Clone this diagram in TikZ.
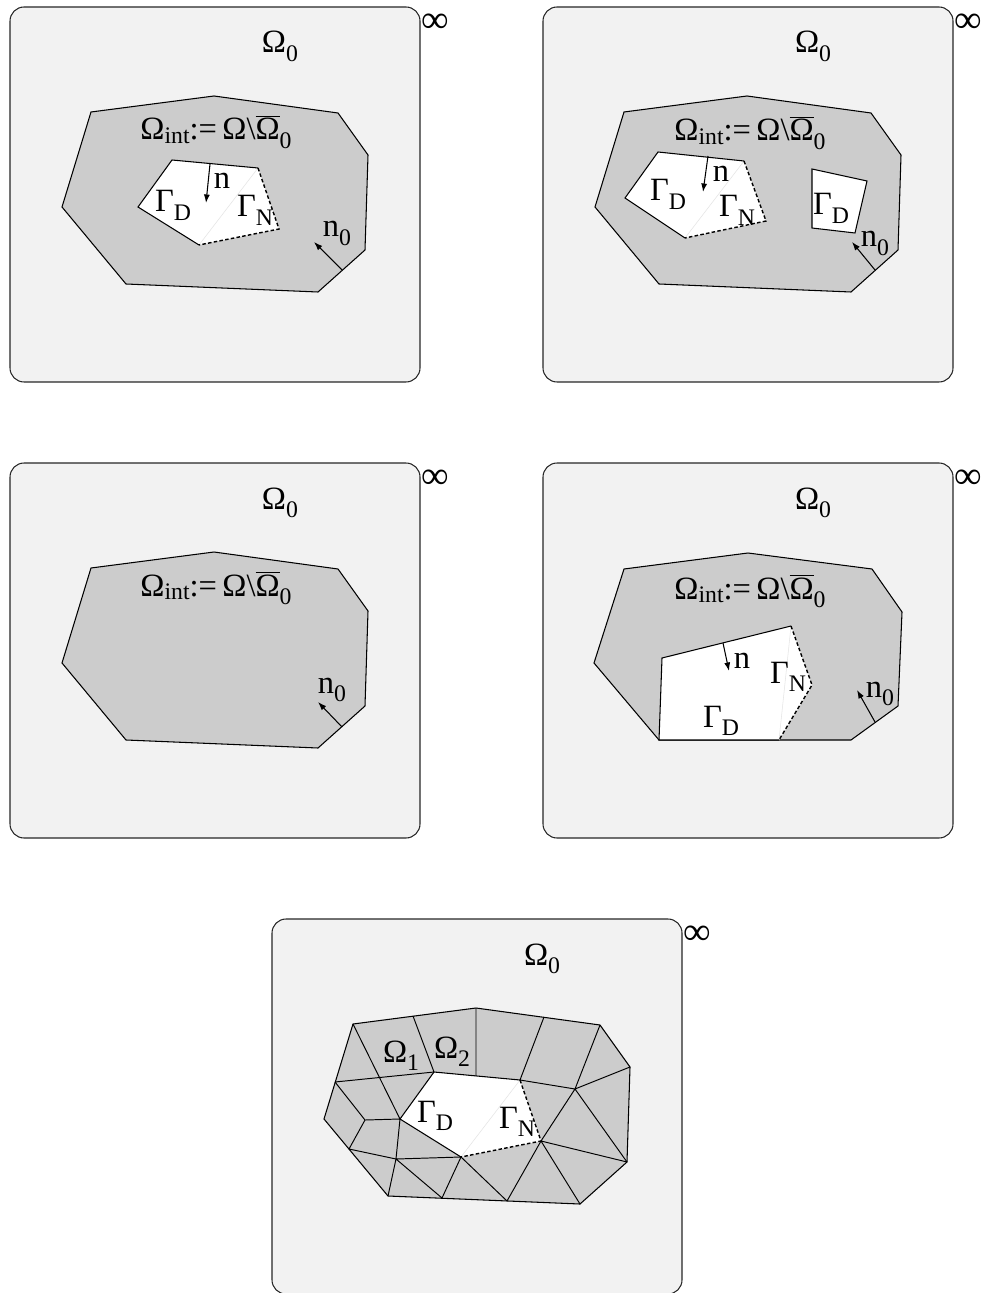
\documentclass[tikz,border=0pt]{standalone}
\usepackage{fontspec}
\setmainfont{Liberation Serif}
\usepackage{tikz}
\usetikzlibrary{arrows.meta}
\definecolor{outergray}{RGB}{242,242,242}
\definecolor{domaingray}{RGB}{204,204,204}
\definecolor{faintgray}{RGB}{228,228,228}
\newcommand{\lsub}[1]{\raisebox{-4.8pt}{\fontsize{13.5}{14}\selectfont #1}}
\newcommand{\isub}[1]{\raisebox{-2pt}{\fontsize{13.5}{14}\selectfont #1}}
\newcommand{\omintlabel}{Ω\isub{int}:=\,Ω\textbackslash$\overline{\mbox{Ω}}$\lsub{0}}
\tikzset{
  panelbox/.style={draw=black!85,fill=outergray,rounded corners=8pt,line width=0.6pt},
  regionfill/.style={draw=black,fill=domaingray,line width=0.6pt},
  holefill/.style={fill=white},
  dirichlet/.style={draw=black,line width=0.6pt},
  neumann/.style={draw=black,line width=0.8pt,dash pattern=on 2pt off 1.3pt},
  triedge/.style={draw=faintgray,line width=0.3pt},
  meshline/.style={draw=black,line width=0.55pt},
  normalarrow/.style={-{Latex[length=1.7mm,width=1.2mm]},line width=0.6pt},
  lbl/.style={inner sep=0pt,anchor=base,font=\fontsize{18.5}{21}\selectfont},
  inflbl/.style={inner sep=0pt,font=\fontsize{22}{24}\selectfont},
}

\begin{document}
\begin{tikzpicture}[x=0.02cm,y=-0.02cm]
  \useasboundingbox (0,0) rectangle (980,1293);
  % one hole, Dirichlet and Neumann parts
  \begin{scope}
    \draw[panelbox] (10,7) rectangle (420,382);
    \draw[regionfill] (91,112) -- (214,96) -- (338,113) -- (368,155) -- (365,250)
      -- (318,292) -- (126,284) -- (62,207) -- cycle;
    \fill[holefill] (172,160) -- (258,168) -- (279,229) -- (199,245) -- (138,207) -- cycle;
    \draw[triedge] (199,245) -- (258,168);
    \draw[dirichlet] (199,245) -- (138,207) -- (172,160) -- (258,168);
    \draw[neumann] (258,168) -- (279,229) -- (199,245);
    \node[inflbl] (infA) at (435,23) {∞};
    \node[lbl] (omzeroA) at (280,53) {Ω\lsub{0}};
    \node[lbl] (omintA) at (216,140) {\omintlabel};
    \node[lbl] (gdA) at (173,212) {Γ\lsub{D}};
    \node[lbl] (gnA) at (255,217) {Γ\lsub{N}};
    \node[lbl] (nA) at (222,189) {n};
    \node[lbl] (nzeroA) at (337,237) {n\lsub{0}};
    \coordinate (nAs) at (210,164);
    \coordinate (nAe) at (206,203);
    \coordinate (nzAs) at (342,270);
    \coordinate (nzAe) at (314,242);
    \draw[normalarrow] (nAs) -- (nAe);
    \draw[normalarrow] (nzAs) -- (nzAe);
  \end{scope}
  % two holes
  \begin{scope}[shift={(533,0)}]
    \draw[panelbox] (10,7) rectangle (420,382);
    \draw[regionfill] (91,112) -- (214,96) -- (338,113) -- (368,155) -- (365,250)
      -- (318,292) -- (126,284) -- (62,207) -- cycle;
    \fill[holefill] (125,152) -- (211,161) -- (233,221) -- (152,238) -- (92,198) -- cycle;
    \fill[holefill] (279,169) -- (334,181) -- (322,233) -- (279,228) -- cycle;
    \draw[triedge] (152,238) -- (211,161);
    \draw[dirichlet] (152,238) -- (92,198) -- (125,152) -- (211,161);
    \draw[neumann] (211,161) -- (233,221) -- (152,238);
    \draw[dirichlet] (279,169) -- (334,181) -- (322,233) -- (279,228) -- cycle;
    \node[inflbl] (infB) at (435,23) {∞};
    \node[lbl] (omzeroB) at (280,53) {Ω\lsub{0}};
    \node[lbl] (omintB) at (217,141) {\omintlabel};
    \node[lbl] (gdB) at (135,201) {Γ\lsub{D}};
    \node[lbl] (gnB) at (204,217) {Γ\lsub{N}};
    \node[lbl] (gdBb) at (298,215) {Γ\lsub{D}};
    \node[lbl] (nB) at (188,182) {n};
    \node[lbl] (nzeroB) at (342,247) {n\lsub{0}};
    \coordinate (nBs) at (175,156);
    \coordinate (nBe) at (170,192);
    \coordinate (nzBs) at (342,270);
    \coordinate (nzBe) at (319,242);
    \draw[normalarrow] (nBs) -- (nBe);
    \draw[normalarrow] (nzBs) -- (nzBe);
  \end{scope}
  % no hole
  \begin{scope}[shift={(0,456)}]
    \draw[panelbox] (10,7) rectangle (420,382);
    \draw[regionfill] (91,112) -- (214,96) -- (338,113) -- (368,155) -- (365,250)
      -- (318,292) -- (126,284) -- (62,207) -- cycle;
    \node[inflbl] (infC) at (435,23) {∞};
    \node[lbl] (omzeroC) at (280,53) {Ω\lsub{0}};
    \node[lbl] (omintC) at (216,140) {\omintlabel};
    \node[lbl] (nzeroC) at (332,237) {n\lsub{0}};
    \coordinate (nzCs) at (342,271);
    \coordinate (nzCe) at (318,246);
    \draw[normalarrow] (nzCs) -- (nzCe);
  \end{scope}
  % hole touching the outer boundary
  \begin{scope}[shift={(533,456)}]
    \draw[panelbox] (10,7) rectangle (420,382);
    \draw[regionfill] (91,113) -- (215,97) -- (339,113) -- (369,156) -- (365,250)
      -- (318,284) -- (126,284) -- (61,207) -- cycle;
    \fill[holefill] (126,284) -- (129,202) -- (258,170) -- (279,229) -- (246,284) -- cycle;
    \draw[triedge] (246,284) -- (258,170);
    \draw[dirichlet] (246,284) -- (126,284) -- (129,202) -- (258,170);
    \draw[neumann] (258,170) -- (279,229) -- (246,284);
    \node[inflbl] (infD) at (435,23) {∞};
    \node[lbl] (omzeroD) at (280,53) {Ω\lsub{0}};
    \node[lbl] (omintD) at (217,143) {\omintlabel};
    \node[lbl] (gnD) at (255,227) {Γ\lsub{N}};
    \node[lbl] (gdD) at (188,271) {Γ\lsub{D}};
    \node[lbl] (nD) at (209,212) {n};
    \node[lbl] (nzeroD) at (347,241) {n\lsub{0}};
    \coordinate (nDs) at (190,187);
    \coordinate (nDe) at (196,215);
    \coordinate (nzDs) at (342,266);
    \coordinate (nzDe) at (324,234);
    \draw[normalarrow] (nDs) -- (nDe);
    \draw[normalarrow] (nzDs) -- (nzDe);
  \end{scope}
  % decomposition into subdomains
  \begin{scope}[shift={(262,912)}]
    \draw[panelbox] (10,7) rectangle (420,382);
    \coordinate (o1) at (91,112);   \coordinate (o2) at (151,104);
    \coordinate (o3) at (214,96);   \coordinate (o4) at (282,105);
    \coordinate (o5) at (338,113);  \coordinate (o6) at (368,155);
    \coordinate (o7) at (365,250);  \coordinate (o8) at (318,292);
    \coordinate (o9) at (245,289);  \coordinate (o10) at (180,286);
    \coordinate (o11) at (126,284); \coordinate (o12) at (87,237);
    \coordinate (o13) at (62,207);  \coordinate (o14) at (73,170);
    \coordinate (h1) at (172,160);  \coordinate (h2) at (214,164);
    \coordinate (h3) at (258,168);  \coordinate (h4) at (279,229);
    \coordinate (h5) at (199,245);  \coordinate (h6) at (138,207);
    \coordinate (c1) at (313,177);  \coordinate (c2) at (134,247);
    \coordinate (c3) at (103,208);
    \draw[regionfill] (o1) -- (o3) -- (o5) -- (o6) -- (o7) -- (o8) -- (o11) -- (o13) -- cycle;
    \fill[holefill] (h1) -- (h3) -- (h4) -- (h5) -- (h6) -- cycle;
    \draw[triedge] (h5) -- (h3);
    \draw[meshline] (o1) -- (h6) (o14) -- (h1) (o2) -- (h1) (o3) -- (h2)
      (o4) -- (h3) (o5) -- (c1) (h3) -- (c1) (c1) -- (o6) (c1) -- (h4)
      (c1) -- (o7) (h4) -- (o7) (h4) -- (o8) (h4) -- (o9) (h5) -- (o9)
      (h5) -- (o10) (h5) -- (c2) (c2) -- (o11) (c2) -- (o10) (c2) -- (h6)
      (c2) -- (o12) (o12) -- (c3) (c3) -- (h6) (c3) -- (o14);
    \draw[dirichlet] (h5) -- (h6) -- (h1) -- (h3);
    \draw[neumann] (h3) -- (h4) -- (h5);
    \node[inflbl] (infE) at (435,23) {∞};
    \node[lbl] (omzeroE) at (280,53) {Ω\lsub{0}};
    \node[lbl] (omoneE) at (139,150) {Ω\lsub{1}};
    \node[lbl] (omtwoE) at (190,146) {Ω\lsub{2}};
    \node[lbl] (gdE) at (173,210) {Γ\lsub{D}};
    \node[lbl] (gnE) at (255,216) {Γ\lsub{N}};
  \end{scope}
\end{tikzpicture}
\end{document}
